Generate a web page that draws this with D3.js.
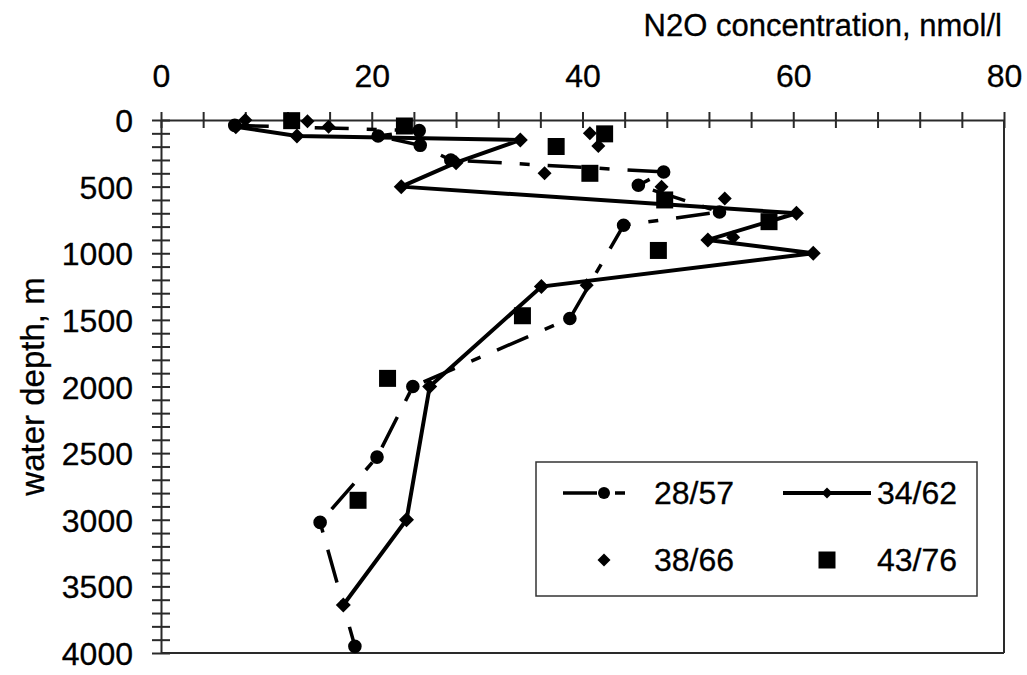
<!DOCTYPE html>
<html>
<head>
<meta charset="utf-8">
<script src="https://cdn.jsdelivr.net/npm/d3@7"></script>
<style>
  html, body { margin: 0; padding: 0; background: #fff; }
  svg { display: block; }
  text { font-family: "Liberation Sans", Arial, sans-serif; fill: #000; stroke: #000; stroke-width: 0.3px; }
</style>
</head>
<body>
<svg id="chart" width="1027" height="675"></svg>
<script>
// N2O profiles: concentration (nmol/l) against water depth (m) for four stations
const xTicks = d3.range(0, 81, 4);          // tick marks every 4 nmol/l
const xLabels = [0, 20, 40, 60, 80];
const yTicks = d3.range(0, 4001, 100);      // tick marks every 100 m
const yLabels = [0, 500, 1000, 1500, 2000, 2500, 3000, 3500, 4000];

const seriesNames = ["28/57", "34/62", "38/66", "43/76"];

// 28/57 — circles joined by a dashed line
const depth2857 = [40, 80, 120, 190, 300, 390, 490, 690, 790, 1490, 2000, 2530, 3020, 3950];
const n2o2857   = [7.0, 24.5, 20.6, 24.6, 27.5, 47.7, 45.3, 53.0, 43.9, 38.8, 23.9, 20.5, 15.1, 18.4];

// 34/62 — diamonds joined by a solid line
const depth3462 = [50, 120, 150, 320, 500, 700, 900, 1000, 1250, 2000, 3000, 3640];
const n2o3462   = [7.1, 12.9, 34.1, 28.0, 22.8, 60.3, 51.9, 61.9, 36.1, 25.5, 23.3, 17.3];

// 38/66 — diamonds only
const depth3866 = [0, 10, 50, 100, 195, 400, 500, 590, 880, 1240];
const n2o3866   = [8.0, 13.9, 15.9, 40.7, 41.5, 36.4, 47.5, 53.5, 54.3, 40.4];

// 43/76 — squares only
const depth4376 = [5, 45, 104, 199, 400, 600, 763, 979, 1469, 1939, 2854];
const n2o4376   = [12.4, 23.1, 42.1, 37.5, 40.7, 47.8, 57.7, 47.2, 34.3, 21.5, 18.7];

const svg = d3.select("#chart");
const plotLeft = 161, plotRight = 1004, plotTop = 120, plotBottom = 653;
const FONT = 32;

const x = d3.scaleLinear().domain([0, 80]).range([plotLeft, plotRight]);
const y = d3.scaleLinear().domain([0, 4000]).range([plotTop, plotBottom]);

const zip = (ds, vs) => ds.map((d, i) => ({ depth: d, v: vs[i] }));
const data2857 = zip(depth2857, n2o2857);
const data3462 = zip(depth3462, n2o3462);
const data3866 = zip(depth3866, n2o3866);
const data4376 = zip(depth4376, n2o4376);

// plot frame (right and bottom edges)
const axisColor = "#2a2a2a";
svg.append("line").attr("x1", plotLeft).attr("x2", plotRight).attr("y1", plotBottom).attr("y2", plotBottom)
  .attr("stroke", axisColor).attr("stroke-width", 2);
svg.append("line").attr("x1", plotRight).attr("x2", plotRight).attr("y1", plotTop).attr("y2", plotBottom)
  .attr("stroke", axisColor).attr("stroke-width", 2);

// top concentration axis
const gx = svg.append("g").attr("transform", `translate(0,${plotTop})`)
  .call(d3.axisTop(x).tickValues(xTicks).tickSize(8).tickSizeOuter(0)
    .tickFormat(d => xLabels.includes(d) ? d : ""));
gx.select(".domain").attr("stroke", axisColor).attr("stroke-width", 2);
gx.selectAll(".tick line").attr("y1", 8).attr("stroke", axisColor).attr("stroke-width", 2);
gx.selectAll(".tick text")
  .attr("y", -33).attr("dy", null)
  .style("font-size", FONT + "px").style("font-family", "Liberation Sans, Arial, sans-serif")
  .attr("fill", "#000");

// left depth axis
const gy = svg.append("g").attr("transform", `translate(${plotLeft},0)`)
  .call(d3.axisLeft(y).tickValues(yTicks).tickSize(9).tickSizeOuter(0)
    .tickFormat(d => yLabels.includes(d) ? d : ""));
gy.select(".domain").attr("stroke", axisColor).attr("stroke-width", 2);
gy.selectAll(".tick line").attr("x1", 9).attr("stroke", axisColor).attr("stroke-width", 2);
gy.selectAll(".tick text")
  .attr("x", -28).attr("dy", "0.36em")
  .style("font-size", FONT + "px").style("font-family", "Liberation Sans, Arial, sans-serif")
  .attr("fill", "#000");

// axis titles
svg.append("text")
  .attr("x", plotRight - 2).attr("y", 36)
  .attr("text-anchor", "end")
  .style("font-size", "31px")
  .text("N2O concentration, nmol/l");

svg.append("text")
  .attr("transform", `translate(44,${(plotTop + plotBottom) / 2}) rotate(-90)`)
  .attr("text-anchor", "middle")
  .style("font-size", "33px")
  .text("water depth, m");

// marker shapes
const diamondPath = r => `M0,${-r}L${r},0L0,${r}L${-r},0Z`;
const squarePath = s => `M${-s / 2},${-s / 2}h${s}v${s}h${-s}Z`;
const circlePath = r => d3.symbol(d3.symbolCircle, Math.PI * r * r)();

const line = d3.line().x(d => x(d.v)).y(d => y(d.depth));
const dashPattern = "34,18,10,18";

// profile lines
svg.append("path").datum(data3462)
  .attr("d", line).attr("fill", "none").attr("stroke", "#000")
  .attr("stroke-width", 4).attr("stroke-linejoin", "miter");
svg.append("path").datum(data2857)
  .attr("d", line).attr("fill", "none").attr("stroke", "#000")
  .attr("stroke-width", 3.5).attr("stroke-dasharray", dashPattern);

// markers
const drawMarks = (data, pathStr) => svg.append("g").selectAll("path")
  .data(data).join("path")
  .attr("transform", d => `translate(${x(d.v)},${y(d.depth)})`)
  .attr("d", pathStr).attr("fill", "#000");

drawMarks(data4376, squarePath(17));
drawMarks(data3866, diamondPath(7));
drawMarks(data3462, diamondPath(7.5));
drawMarks(data2857, circlePath(6.8));

// legend
const lg = svg.append("g");
lg.append("rect").attr("x", 536).attr("y", 462).attr("width", 441).attr("height", 134)
  .attr("fill", "#fff").attr("stroke", "#333").attr("stroke-width", 1.5);

const legendItems = [
  { name: seriesNames[0], lx: 563, row: 0, line: "dash", mark: circlePath(6) },
  { name: seriesNames[1], lx: 783, row: 0, line: "solid", mark: diamondPath(5.5) },
  { name: seriesNames[2], lx: 563, row: 1, line: null, mark: diamondPath(6.5) },
  { name: seriesNames[3], lx: 783, row: 1, line: null, mark: squarePath(17) }
];
const rowY = [493, 560];
legendItems.forEach(it => {
  const cy = rowY[it.row];
  const segLen = it.line === "dash" ? 64 : 88;
  const cx = it.lx + (it.line === "dash" || it.lx === 563 ? 41 : 44);
  if (it.line) {
    lg.append("line").attr("x1", it.lx).attr("x2", it.lx + segLen)
      .attr("y1", cy).attr("y2", cy).attr("stroke", "#000")
      .attr("stroke-width", it.line === "dash" ? 3.5 : 4)
      .attr("stroke-dasharray", it.line === "dash" ? dashPattern : null);
  }
  lg.append("path").attr("transform", `translate(${cx},${cy})`)
    .attr("d", it.mark).attr("fill", "#000");
  lg.append("text")
    .attr("x", it.lx + (it.lx === 783 ? 94 : 91)).attr("y", cy + 11)
    .style("font-size", FONT + "px")
    .text(it.name);
});
</script>
</body>
</html>
